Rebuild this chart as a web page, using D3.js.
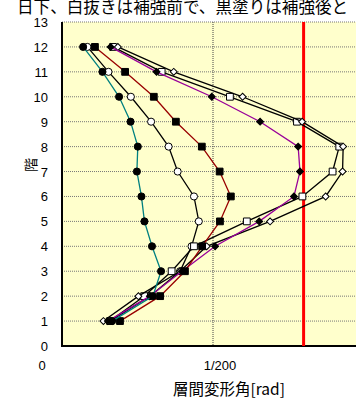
<html>
<head>
<script src="https://d3js.org/d3.v7.min.js"></script>
<style>
body{margin:0;background:#fff;}
text{font-family:"Liberation Sans",Arial,sans-serif;fill:#000;}
.jp{font-family:"Noto Sans CJK JP",sans-serif;}
</style>
</head>
<body>
<script>
var width = 356, height = 403;

// floors
var floors = [1,2,3,4,5,6,7,8,9,10,11,12];
// story drift angle [rad] per floor
var circleAfter  = [0.00166,0.00301,0.00328,0.00298,0.00273,0.00263,0.00248,0.00251,0.00227,0.00189,0.00134,0.00070];
var circleBefore = [0.00159,0.00291,0.00391,0.00429,0.00453,0.00437,0.00383,0.00353,0.00295,0.00228,0.00154,0.00084];
var squareAfter  = [0.00192,0.00325,0.00407,0.00464,0.00523,0.00559,0.00522,0.00463,0.00377,0.00304,0.00209,0.00109];
var squareBefore = [0.00159,0.00272,0.00363,0.00437,0.00612,0.00796,0.00896,0.00918,0.00778,0.00556,0.00330,0.00169];
var diamondAfter = [0.00152,0.00291,0.00397,0.00507,0.00653,0.00768,0.00788,0.00782,0.00656,0.00496,0.00313,0.00161];
var diamondBefore= [0.00137,0.00253,0.00391,0.00479,0.00689,0.00873,0.00929,0.00931,0.00795,0.00598,0.00370,0.00185];
var limitLine = 1/125;

var series = [
  {vals: circleBefore,  line: "#000",    shape: "circle",  fill: "#fff"},
  {vals: squareBefore,  line: "#000",    shape: "square",  fill: "#fff"},
  {vals: diamondBefore, line: "#000",    shape: "diamond", fill: "#fff"},
  {vals: diamondAfter,  line: "#990099", shape: "diamond", fill: "#000"},
  {vals: squareAfter,   line: "#990000", shape: "square",  fill: "#000"},
  {vals: circleAfter,   line: "#008080", shape: "circle",  fill: "#000"}
];

var x = d3.scaleLinear().domain([0, 0.01]).range([62, 364]);
var y = d3.scaleLinear().domain([0, 13]).range([346, 22]);

var svg = d3.select("body").append("svg")
  .attr("width", width).attr("height", height);

// title (cut off at the top of the picture)
svg.append("text").attr("class","jp")
  .attr("x", 17).attr("y", 13)
  .style("font-size","16.6px")
  .text("日下、白抜きは補強前で、黒塗りは補強後と");

// plot area
svg.append("rect")
  .attr("x", x(0)).attr("y", y(13))
  .attr("width", x(0.01) - x(0)).attr("height", y(0) - y(13))
  .attr("fill", "#ffffcc");

// horizontal grid
svg.append("g").selectAll("line")
  .data(d3.range(1, 14))
  .enter().append("line")
  .attr("x1", x(0)).attr("x2", x(0.01))
  .attr("y1", d => y(d)).attr("y2", d => y(d))
  .attr("stroke", "#777").attr("stroke-dasharray", "1,1");

// vertical grid at 1/200
svg.append("line")
  .attr("x1", x(0.005)).attr("x2", x(0.005))
  .attr("y1", y(13)).attr("y2", y(0))
  .attr("stroke", "#444").attr("stroke-dasharray", "1,1");

// axes lines
svg.append("line").attr("x1", x(0)).attr("x2", x(0)).attr("y1", y(13)).attr("y2", y(0) + 1)
  .attr("stroke", "#000").attr("stroke-width", 2);
svg.append("line").attr("x1", x(0) - 1).attr("x2", x(0.01)).attr("y1", y(0)).attr("y2", y(0))
  .attr("stroke", "#000").attr("stroke-width", 2);

// y tick labels
svg.append("g").selectAll("text")
  .data(d3.range(0, 14))
  .enter().append("text")
  .attr("x", 48).attr("y", d => y(d) + 5)
  .attr("text-anchor", "end")
  .style("font-size", "13px")
  .text(d => d);

// x tick labels
var xTicks = [0, 0.005, 0.01];
var xTickLabels = ["0", "1/200", "1/100"];
var xLabelShift = [-20, 7, 8];
svg.append("g").selectAll("text")
  .data(xTicks)
  .enter().append("text")
  .attr("x", (d, i) => x(d) + xLabelShift[i]).attr("y", 370)
  .attr("text-anchor", "middle")
  .style("font-size", "13px")
  .text((d, i) => xTickLabels[i]);

// axis titles
svg.append("text").attr("class","jp")
  .attr("x", 229).attr("y", 395)
  .attr("text-anchor", "middle")
  .style("font-size", "15.5px")
  .text("層間変形角[rad]");
svg.append("text").attr("class","jp")
  .attr("transform", "translate(36,165) rotate(-90)")
  .attr("text-anchor", "middle")
  .style("font-size", "14px")
  .text("階");

// limit line 1/125
svg.append("line")
  .attr("x1", x(limitLine)).attr("x2", x(limitLine))
  .attr("y1", y(13)).attr("y2", y(0))
  .attr("stroke", "#ff0000").attr("stroke-width", 3);

var line = d3.line().x(d => x(d[0])).y(d => y(d[1]));

series.forEach(function(s) {
  var pts = s.vals.map((v, i) => [v, floors[i]]);
  svg.append("path")
    .attr("d", line(pts))
    .attr("fill", "none")
    .attr("stroke", s.line)
    .attr("stroke-width", 1.3);

  var sym;
  if (s.shape === "circle") sym = d3.symbol().type(d3.symbolCircle).size(40);
  else if (s.shape === "square") sym = d3.symbol().type(d3.symbolSquare).size(46);
  else sym = d3.symbol().type(d3.symbolSquare).size(24);

  svg.append("g").selectAll("path")
    .data(pts)
    .enter().append("path")
    .attr("d", sym)
    .attr("transform", d => "translate(" + x(d[0]) + "," + y(d[1]) + ")" + (s.shape === "diamond" ? " rotate(45)" : ""))
    .attr("fill", s.fill)
    .attr("stroke", "#000")
    .attr("stroke-width", 1);
});
</script>
</body>
</html>
